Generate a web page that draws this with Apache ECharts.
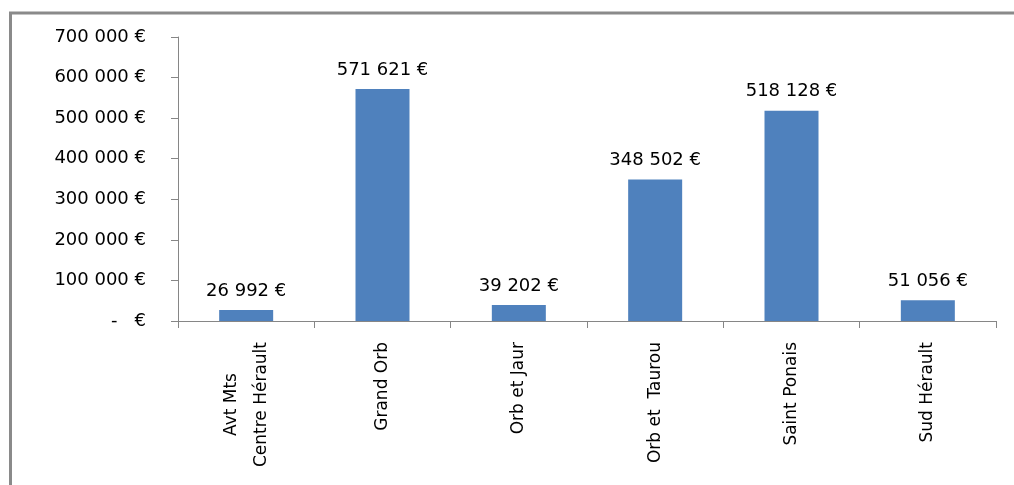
<!DOCTYPE html>
<html>
<head>
<meta charset="utf-8">
<script src="https://cdn.jsdelivr.net/npm/echarts@6/dist/echarts.min.js"></script>
<style>
  html, body { margin: 0; padding: 0; background: #fff; }
  #chart { width: 1014px; height: 485px; }
</style>
</head>
<body>
<div id="chart"></div>
<script>
const categories = ['Avt Mts\nCentre Hérault', 'Grand Orb', 'Orb et Jaur', 'Orb et  Taurou', 'Saint Ponais', 'Sud Hérault']
const amounts = [26992, 571621, 39202, 348502, 518128, 51056]
const yTicks = { min: 0, max: 700000, interval: 100000 }

const fontFamily = 'DejaVu Sans'
const euro = (v) => {
  if (v === 0) return '-   €'
  return String(Math.round(v)).replace(/\B(?=(\d{3})+(?!\d))/g, ' ') + ' €'
}

const chart = echarts.init(document.getElementById('chart'))

chart.setOption({
  backgroundColor: '#fff',
  animation: false,
  textStyle: { fontFamily },
  graphic: [
    {
      type: 'rect',
      shape: { x: 10.5, y: 13, width: 1200, height: 1000 },
      style: { fill: 'none', stroke: '#8a8a8a', lineWidth: 3 },
      silent: true,
    },
  ],
  grid: { left: 178, right: 18, top: 37, bottom: 164 },
  xAxis: {
    type: 'category',
    data: categories,
    axisLine: { lineStyle: { color: '#868686', width: 1 } },
    axisTick: { show: true, length: 7, lineStyle: { color: '#868686' } },
    axisLabel: {
      rotate: 90,
      margin: 21,
      interval: 0,
      color: '#000',
      fontSize: 17,
      fontFamily,
      formatter: (v) => v.split('\n').map((s) => '{c|' + s + '}').join('\n'),
      rich: { c: { align: 'center', fontSize: 17, lineHeight: 30, color: '#000', fontFamily } },
    },
  },
  yAxis: {
    type: 'value',
    min: yTicks.min,
    max: yTicks.max,
    interval: yTicks.interval,
    axisLine: { show: true, lineStyle: { color: '#868686', width: 1 } },
    axisTick: { show: true, length: 7, lineStyle: { color: '#868686' } },
    splitLine: { show: false },
    axisLabel: {
      margin: 32,
      color: '#000',
      fontSize: 18,
      fontFamily,
      formatter: euro,
    },
  },
  series: [
    {
      type: 'bar',
      data: amounts,
      barWidth: 54,
      itemStyle: { color: '#4F81BD' },
      label: {
        show: true,
        position: 'top',
        distance: 10,
        color: '#000',
        fontSize: 18,
        fontFamily,
        formatter: (p) => euro(p.value),
      },
    },
  ],
})
</script>
</body>
</html>
